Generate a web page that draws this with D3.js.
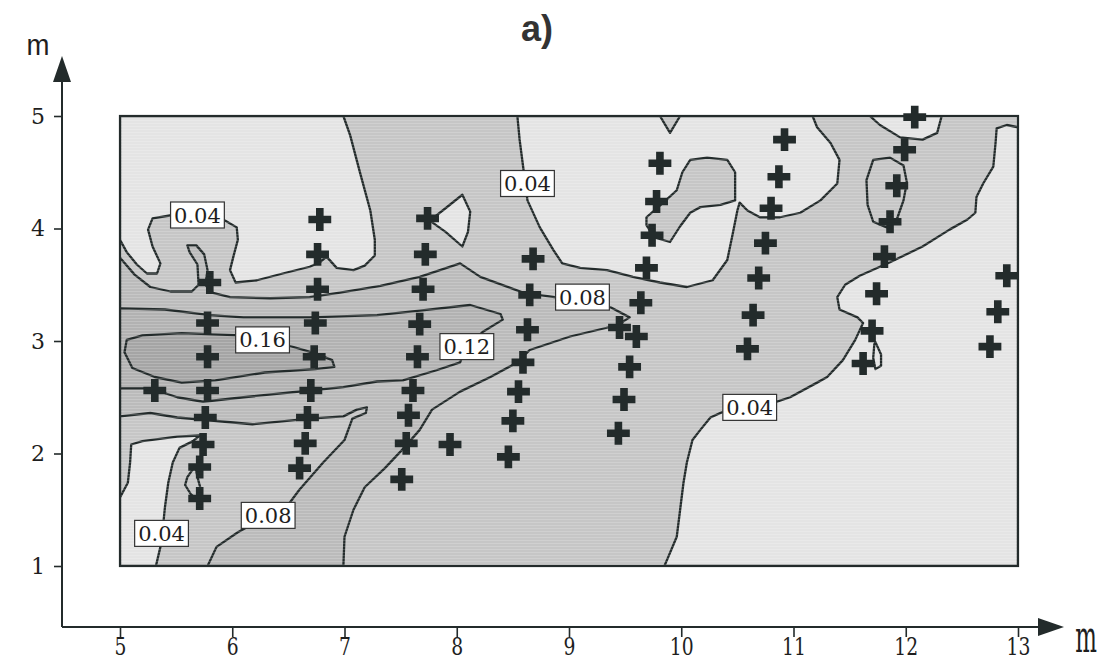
<!DOCTYPE html>
<html>
<head>
<meta charset="utf-8">
<script src="https://cdn.jsdelivr.net/npm/d3@7"></script>
<style>
  body { margin: 0; background: #fff; }
  svg { display: block; }
</style>
</head>
<body>
<svg width="1119" height="661"></svg>
<script>
// contour map a) - values in metres
const xTicks = [5, 6, 7, 8, 9, 10, 11, 12, 13];
const yTicks = [1, 2, 3, 4, 5];
const levels = [0.04, 0.08, 0.12, 0.16];

// regions (polygon vertices [x m, y m]), with the band they belong to
const lightUpperLeft = [[5,5],[5.00,3.90],[5.06,3.79],[5.15,3.68],[5.24,3.60],[5.33,3.60],[5.36,3.69],[5.29,3.84],[5.25,3.99],[5.29,4.09],[5.47,4.12],[5.71,4.13],[5.92,4.08],[6.04,4.01],[6.05,3.90],[6.01,3.75],[5.98,3.63],[6.03,3.52],[6.22,3.54],[6.45,3.60],[6.69,3.66],[6.78,3.70],[6.84,3.75],[6.93,3.65],[7.08,3.63],[7.18,3.67],[7.27,3.76],[7.27,3.90],[7.23,4.16],[7.14,4.49],[7.05,4.83],[6.99,5.00]];
const lightTopCenter = [[8.54,5.00],[8.56,4.79],[8.59,4.56],[8.63,4.25],[8.74,4.01],[8.86,3.81],[8.94,3.69],[9.10,3.65],[9.34,3.63],[9.57,3.57],[9.81,3.52],[10.05,3.48],[10.28,3.54],[10.41,3.72],[10.46,3.96],[10.50,4.16],[10.52,4.23],[10.59,4.16],[10.70,4.10],[10.88,4.10],[11.06,4.14],[11.24,4.25],[11.39,4.40],[11.41,4.61],[11.33,4.76],[11.21,4.90],[11.17,5.00],[9.99,5.00],[9.90,4.85],[9.81,5.00]];
const islandCenter = [[9.69,4.10],[9.84,4.23],[9.96,4.34],[10.01,4.50],[10.08,4.61],[10.23,4.63],[10.41,4.61],[10.48,4.50],[10.48,4.25],[10.35,4.21],[10.17,4.19],[10.08,4.14],[9.99,4.02],[9.90,3.88],[9.76,3.92],[9.69,4.03]];
const lightTriangle = [[7.76,4.07],[7.90,4.18],[8.05,4.30],[8.12,4.15],[8.10,3.97],[8.05,3.84],[7.90,3.97]];
const lightTopRight = [[11.68,5.00],[11.77,4.92],[11.95,4.81],[12.15,4.79],[12.28,4.85],[12.32,5.00]];
const lightRight = [[13.00,4.90],[12.90,4.92],[12.81,4.89],[12.80,4.76],[12.78,4.55],[12.69,4.40],[12.63,4.28],[12.62,4.14],[12.55,4.08],[12.39,3.99],[12.15,3.84],[11.86,3.70],[11.59,3.58],[11.46,3.50],[11.39,3.39],[11.41,3.28],[11.57,3.21],[11.62,3.16],[11.55,3.01],[11.44,2.83],[11.30,2.68],[11.21,2.63],[10.97,2.50],[10.82,2.45],[10.61,2.41],[10.37,2.37],[10.26,2.32],[10.17,2.21],[10.10,2.12],[10.05,1.92],[10.02,1.74],[9.99,1.50],[9.96,1.26],[9.88,1.07],[9.85,1.00],[13.00,1.00]];
const band08Upper = [[5.00,3.74],[5.13,3.59],[5.27,3.48],[5.45,3.44],[5.64,3.44],[5.70,3.50],[5.69,3.68],[5.62,3.79],[5.60,3.85],[5.68,3.85],[5.75,3.77],[5.78,3.63],[5.76,3.50],[5.82,3.43],[5.98,3.39],[6.34,3.38],[6.69,3.39],[6.96,3.43],[7.32,3.49],[7.67,3.57],[8.03,3.69],[8.21,3.57],[8.59,3.43],[8.87,3.39],[9.12,3.36],[9.37,3.30],[9.54,3.21],[9.43,3.14],[9.01,3.04],[8.65,2.92],[8.54,2.81],[8.30,2.68],[8.03,2.55],[7.78,2.39],[7.67,2.21],[7.53,2.05],[7.36,1.87],[7.18,1.70],[7.08,1.50],[7.00,1.26],[6.99,1.00],[5.00,1.00]];
const band08Corner = [[5.00,2.33],[5.27,2.36],[5.51,2.32],[5.74,2.30],[6.18,2.26],[6.69,2.31],[6.99,2.33],[7.11,2.39],[7.20,2.41],[7.19,2.36],[7.07,2.31],[7.00,2.12],[6.81,1.92],[6.60,1.68],[6.51,1.56],[6.32,1.45],[6.05,1.30],[5.86,1.17],[5.78,1.00],[5.00,1.00]];
const lightBottomLeft = [[5.00,1.61],[5.07,1.74],[5.09,1.92],[5.10,2.08],[5.20,2.11],[5.51,2.15],[5.71,2.16],[5.65,2.11],[5.53,2.05],[5.47,1.92],[5.43,1.74],[5.40,1.52],[5.38,1.32],[5.36,1.17],[5.32,1.00],[5.00,1.00]];
const band12 = [[5.00,3.29],[5.40,3.28],[5.80,3.23],[6.10,3.21],[6.69,3.21],[7.29,3.23],[7.67,3.27],[8.12,3.32],[8.39,3.24],[8.41,3.19],[8.23,3.08],[8.08,2.94],[8.03,2.81],[7.82,2.74],[7.52,2.65],[7.29,2.64],[6.99,2.59],[6.69,2.56],[6.10,2.50],[5.74,2.46],[5.51,2.50],[5.27,2.58],[5.00,2.58]];
const band16 = [[5.06,3.01],[5.20,3.05],[5.55,3.07],[6.07,3.05],[6.27,3.03],[6.50,2.96],[6.74,2.89],[6.89,2.83],[6.91,2.77],[6.74,2.75],[6.29,2.72],[5.85,2.65],[5.55,2.63],[5.31,2.68],[5.11,2.76],[5.04,2.90]];
const loopRight = [[11.71,4.61],[11.86,4.63],[11.98,4.56],[12.01,4.41],[11.98,4.25],[11.92,4.08],[11.83,4.01],[11.71,4.06],[11.66,4.21],[11.65,4.43]];
const loopTiny = [[11.73,2.99],[11.78,2.88],[11.78,2.78],[11.73,2.75],[11.71,2.85],[11.72,2.97]];
const loopBottom = [[5.67,1.89],[5.60,1.79],[5.58,1.72],[5.63,1.64],[5.70,1.58],[5.72,1.68],[5.69,1.79]];

// sampling points (crosses)
const samplesX = [5.80,5.78,5.78,5.78,5.76,5.74,5.71,5.71,5.31,
  6.78,6.76,6.76,6.74,6.73,6.70,6.67,6.65,6.60,
  7.74,7.72,7.70,7.67,7.65,7.61,7.57,7.55,7.51,7.94,
  8.68,8.65,8.63,8.59,8.55,8.50,8.46,
  9.81,9.78,9.74,9.69,9.64,9.45,9.60,9.54,9.49,9.44,
  10.92,10.87,10.80,10.75,10.69,10.64,10.59,
  12.08,11.99,11.92,11.86,11.81,11.74,11.70,11.62,
  12.90,12.82,12.75];
const samplesY = [3.52,3.16,2.86,2.56,2.32,2.08,1.88,1.60,2.56,
  4.08,3.77,3.46,3.16,2.86,2.56,2.32,2.09,1.87,
  4.09,3.77,3.46,3.15,2.86,2.56,2.34,2.09,1.77,2.08,
  3.73,3.41,3.10,2.81,2.55,2.29,1.97,
  4.58,4.24,3.94,3.65,3.34,3.12,3.04,2.77,2.48,2.18,
  4.79,4.46,4.18,3.87,3.56,3.23,2.93,
  4.99,4.70,4.38,4.06,3.75,3.42,3.09,2.80,
  3.58,3.26,2.95];

// contour labels
const labelText = ["0.04", "0.04", "0.08", "0.16", "0.12", "0.08", "0.04", "0.04"];
const labelX = [5.69, 8.63, 9.12, 6.27, 8.09, 6.32, 10.61, 5.37];
const labelY = [4.12, 4.40, 3.39, 3.01, 2.95, 1.45, 2.41, 1.29];

const svg = d3.select("svg");
const x = d3.scaleLinear().domain([5, 13]).range([120, 1018]);
const y = d3.scaleLinear().domain([1, 5]).range([566, 116]);
const ink = "#232b2b";
const shade = { L0: "#e4e4e4", L1: "#c6c6c6", L2: "#bbbbbb", L3: "#b2b2b2", L4: "#a5a5a5" };

const line = d3.line().x(d => x(d[0])).y(d => y(d[1])).curve(d3.curveLinearClosed);

const defs = svg.append("defs");
defs.append("clipPath").attr("id", "plotClip")
  .append("rect").attr("x", x(5)).attr("y", y(5)).attr("width", x(13) - x(5)).attr("height", y(1) - y(5));
const pat = defs.append("pattern").attr("id", "scan").attr("patternUnits", "userSpaceOnUse")
  .attr("width", 4).attr("height", 3);
pat.append("rect").attr("width", 4).attr("height", 1).attr("fill", "#fff").attr("opacity", 0.18);

const plot = svg.append("g").attr("clip-path", "url(#plotClip)");
plot.append("rect").attr("x", x(5)).attr("y", y(5)).attr("width", x(13) - x(5)).attr("height", y(1) - y(5))
  .attr("fill", shade.L1);

const regions = [
  [band08Upper, "L2"], [band08Corner, "L1"], [lightBottomLeft, "L0"],
  [band12, "L3"], [band16, "L4"],
  [lightUpperLeft, "L0"], [lightTopCenter, "L0"], [lightTriangle, "L0"],
  [lightTopRight, "L0"], [lightRight, "L0"], [islandCenter, "L1"],
  [loopRight, null], [loopTiny, null], [loopBottom, null]
];
plot.selectAll("path.region").data(regions).join("path")
  .attr("class", "region")
  .attr("d", d => line(d[0]))
  .attr("fill", d => d[1] ? shade[d[1]] : "none")
  .attr("stroke", ink).attr("stroke-width", 2.3).attr("stroke-linejoin", "round");

plot.append("rect").attr("x", x(5)).attr("y", y(5)).attr("width", x(13) - x(5)).attr("height", y(1) - y(5))
  .attr("fill", "url(#scan)");

// frame
svg.append("rect").attr("x", x(5)).attr("y", y(5)).attr("width", x(13) - x(5)).attr("height", y(1) - y(5))
  .attr("fill", "none").attr("stroke", ink).attr("stroke-width", 2.2);

// contour labels
const lab = svg.append("g").selectAll("g").data(labelText).join("g")
  .attr("transform", (d, i) => `translate(${x(labelX[i])},${y(labelY[i])})`);
lab.append("rect");
lab.append("text").text(d => d)
  .attr("text-anchor", "middle").attr("dy", "0.36em")
  .attr("font-family", "DejaVu Serif").attr("font-size", 21).attr("fill", "#1e1e1e");
lab.each(function() {
  const g = d3.select(this);
  const w = g.select("text").node().getComputedTextLength() + 7;
  g.select("rect").attr("x", -w / 2).attr("y", -13).attr("width", w).attr("height", 26)
    .attr("fill", "#fff").attr("stroke", "#333").attr("stroke-width", 1.2);
});

// crosses
const cross = d3.symbol().type(d3.symbolCross).size(290);
svg.append("g").selectAll("path").data(samplesX).join("path")
  .attr("d", cross)
  .attr("transform", (d, i) => `translate(${x(d)},${y(samplesY[i])})`)
  .attr("fill", ink);

// axes with arrows
const axisX0 = 62, axisY0 = 627;
const xAxis = svg.append("g").attr("transform", `translate(0,${axisY0})`)
  .call(d3.axisBottom(x).tickValues(xTicks).tickFormat(d3.format("d")).tickSize(10));
const yAxis = svg.append("g").attr("transform", `translate(${axisX0},0)`)
  .call(d3.axisLeft(y).tickValues(yTicks).tickFormat(d3.format("d")).tickSize(8).tickPadding(9));
[xAxis, yAxis].forEach(a => {
  a.select(".domain").remove();
  a.selectAll("line").attr("stroke", ink).attr("stroke-width", 1.6);
  a.selectAll("text").attr("fill", "#1e1e1e");
});
xAxis.selectAll("text").attr("font-family", "DejaVu Serif").attr("font-size", 25)
  .attr("y", 28).attr("dy", 0).attr("transform", "scale(0.75,1)");
yAxis.selectAll("text").attr("font-family", "DejaVu Serif").attr("font-size", 22);

svg.append("line").attr("x1", axisX0).attr("y1", axisY0).attr("x2", 1045).attr("y2", axisY0)
  .attr("stroke", ink).attr("stroke-width", 2);
svg.append("line").attr("x1", axisX0).attr("y1", axisY0).attr("x2", axisX0).attr("y2", 75)
  .attr("stroke", ink).attr("stroke-width", 2);
svg.append("path").attr("d", `M1064,${axisY0} L1038,${axisY0 - 9} L1038,${axisY0 + 9} Z`).attr("fill", ink);
svg.append("path").attr("d", `M${axisX0},56 L${axisX0 - 9},82 L${axisX0 + 9},82 Z`).attr("fill", ink);

svg.append("text").text("m").attr("x", 0).attr("y", 0).attr("text-anchor", "middle")
  .attr("font-family", "DejaVu Serif").attr("font-size", 44).attr("fill", "#1e1e1e")
  .attr("transform", "translate(1086,652) scale(0.52,1)");
svg.append("text").text("m").attr("x", 0).attr("y", 0).attr("text-anchor", "middle")
  .attr("font-family", "Liberation Sans").attr("font-size", 30).attr("fill", "#1e1e1e")
  .attr("transform", "translate(38,55) scale(0.92,1)");

svg.append("text").text("a)").attr("x", 537).attr("y", 41).attr("text-anchor", "middle")
  .attr("font-family", "Liberation Sans").attr("font-weight", "bold").attr("font-size", 36).attr("fill", "#333");
</script>
</body>
</html>
